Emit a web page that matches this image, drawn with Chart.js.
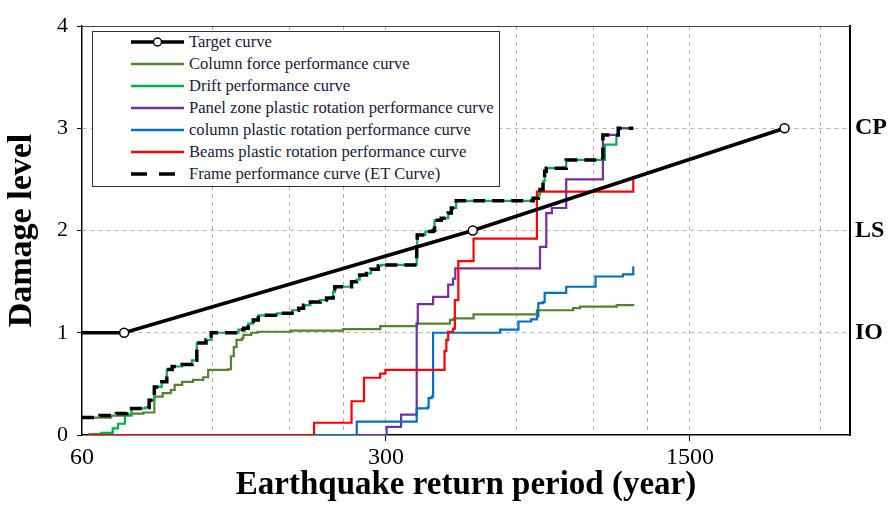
<!DOCTYPE html>
<html>
<head>
<meta charset="utf-8">
<script src="https://cdn.jsdelivr.net/npm/chart.js@4.4.1/dist/chart.umd.min.js"></script>
<style>
  html, body { margin: 0; padding: 0; background: #fff; }
  #wrap { position: relative; width: 889px; height: 505px; }
  #damageChart { position: absolute; left: 0; top: 0; }
  #legend {
    position: absolute; left: 92px; top: 31px; width: 408px; height: 156px;
    box-sizing: border-box; border: 1.5px solid #333; background: #fff;
    font-family: "Liberation Serif", "Times New Roman", serif; font-size: 16.6px; color: #1a1a3a;
  }
  .row { position: absolute; left: 0; height: 22px; display: flex; align-items: center; white-space: nowrap; }
  .row svg { margin-left: 38px; margin-right: 5px; }
</style>
</head>
<body>
<div id="wrap">
  <canvas id="damageChart" width="889" height="505"></canvas>
  <div id="legend"></div>
</div>
<script>
// 축 눈금
var xTickLabels = [60, 300, 1500];
var xGridValues = [60, 120, 180, 240, 300, 600, 900, 1200, 1500, 3000];
var levelValues = [1, 2, 3];
var levelNames = ['IO', 'LS', 'CP'];

var seriesNames = [
  'Target curve',
  'Column force performance curve',
  'Drift performance curve',
  'Panel zone plastic rotation performance curve',
  'column plastic rotation performance curve',
  'Beams plastic rotation performance curve',
  'Frame performance curve (ET Curve)'
];

// 목표 곡선
var targetX = [60, 75, 475, 2475];
var targetY = [1, 1, 2, 3];

// 기둥 축력
var colForceX = [60, 70, 78, 83, 88, 92, 96, 98, 102, 108, 114, 117, 130, 132, 134, 136, 140, 141, 147, 152,
  181, 239, 291, 353, 421, 429, 477, 667, 808, 838, 1018, 1111];
var colForceY = [0.17, 0.19, 0.21, 0.22, 0.375, 0.41, 0.44, 0.49, 0.52, 0.54, 0.565, 0.636, 0.643, 0.77, 0.86, 0.93, 0.946, 0.98, 1.0, 1.01,
  1.02, 1.035, 1.065, 1.09, 1.125, 1.14, 1.18, 1.22, 1.24, 1.255, 1.27, 1.28];

// 층간변위
var driftX = [62, 66.5, 70.6, 72.6, 75.3, 78, 84, 85.6, 88, 91.5, 94, 96.7, 102, 107.4, 110.2, 115.7, 118.9,
  137.4, 141.3, 144.7, 148.6, 152.6, 168.5, 182.4, 188.9, 193.9, 201, 211.8, 219, 226.8, 228.8, 250, 256.6, 261,
  270.5, 277, 288, 292, 353, 354, 369.6, 385, 388, 402, 417, 424, 435, 654, 672, 678, 689, 695, 701, 779,
  956, 1016, 1026, 1111];
var driftY = [0.01, 0.02, 0.065, 0.11, 0.20, 0.26, 0.27, 0.34, 0.47, 0.52, 0.64, 0.67, 0.69, 0.73, 0.90, 0.93, 1.0,
  1.03, 1.044, 1.09, 1.125, 1.17, 1.19, 1.22, 1.24, 1.27, 1.30, 1.32, 1.34, 1.40, 1.45, 1.50, 1.52, 1.565,
  1.58, 1.62, 1.654, 1.663, 1.84, 1.957, 1.99, 2.0, 2.10, 2.12, 2.17, 2.22, 2.29, 2.315, 2.35, 2.40, 2.48, 2.58, 2.61, 2.69,
  2.84, 2.935, 3.0, 3.0];

// 패널존 소성회전
var panelX = [62, 301, 325, 353, 355, 385, 417, 428, 433, 678, 701, 722, 779, 946, 1026, 1111];
var panelY = [0, 0.08, 0.20, 1.09, 1.28, 1.35, 1.47, 1.53, 1.63, 1.84, 2.17, 2.22, 2.50, 2.935, 3.0, 3.0];

// 기둥 소성회전
var colRotX = [62, 257, 353, 374, 376, 382, 385, 549, 605, 647, 667, 672, 689, 695, 779, 910, 1052, 1111];
var colRotY = [0, 0.13, 0.26, 0.27, 0.36, 0.375, 1.0, 1.03, 1.11, 1.13, 1.16, 1.29, 1.30, 1.39, 1.45, 1.55, 1.57, 1.65];

// 보 소성회전
var beamX = [62, 205, 250, 267, 291, 299, 409, 413, 417, 428, 432, 440, 477, 667, 1111];
var beamY = [0, 0.12, 0.33, 0.56, 0.60, 0.636, 0.82, 0.93, 1.01, 1.04, 1.32, 1.70, 1.92, 2.38, 2.53];

// 골조 (ET 곡선)
var frameX = [60, 66, 72, 76, 78, 84, 85.6, 88, 91.5, 94, 96.7, 102, 107.4, 110.2, 115.7, 118.9,
  137.4, 141.3, 144.7, 148.6, 152.6, 168.5, 182.4, 188.9, 193.9, 201, 211.8, 219, 226.8, 228.8, 250, 256.6, 261,
  270.5, 277, 288, 292, 353, 354, 369.6, 385, 388, 402, 417, 424, 435, 654, 672, 678, 689, 695, 701, 779,
  946, 1026, 1111];
var frameY = [0.17, 0.19, 0.21, 0.23, 0.26, 0.27, 0.34, 0.47, 0.52, 0.64, 0.67, 0.69, 0.73, 0.90, 0.93, 1.0,
  1.03, 1.044, 1.09, 1.125, 1.17, 1.19, 1.22, 1.24, 1.27, 1.30, 1.32, 1.34, 1.40, 1.45, 1.50, 1.52, 1.565,
  1.58, 1.62, 1.654, 1.663, 1.84, 1.957, 1.99, 2.0, 2.10, 2.12, 2.17, 2.22, 2.29, 2.315, 2.35, 2.40, 2.48, 2.58, 2.61, 2.69,
  2.935, 3.0, 3.0];

var serif = "'Liberation Serif', 'Times New Roman', serif";

function pts(xs, ys) {
  return xs.map(function (x, i) { return { x: x, y: ys[i] }; });
}

function stepSet(label, xs, ys, color, order) {
  return {
    label: label, data: pts(xs, ys), borderColor: color, backgroundColor: color,
    borderWidth: 2.2, pointRadius: 0, stepped: true, order: order
  };
}

// order 값이 작을수록 위에 그려짐
var datasets = [
  {
    label: seriesNames[0], data: pts(targetX, targetY), borderColor: '#000', borderWidth: 3.5,
    pointRadius: [0, 4.5, 4.5, 4.5], pointBorderWidth: 1.5, pointBackgroundColor: '#fff', pointBorderColor: '#000', order: 0
  },
  stepSet(seriesNames[1], colForceX, colForceY, '#548235', 6),
  stepSet(seriesNames[2], driftX, driftY, '#00b050', 5),
  stepSet(seriesNames[3], panelX, panelY, '#7030a0', 4),
  stepSet(seriesNames[4], colRotX, colRotY, '#0070c0', 3),
  stepSet(seriesNames[5], beamX, beamY, '#ff0000', 2),
  {
    label: seriesNames[6], data: pts(frameX, frameY), borderColor: '#000', borderWidth: 3.5,
    borderDash: [12, 7], pointRadius: 0, stepped: true, order: 1
  }
];

var topBorder = {
  id: 'topBorder',
  beforeDatasetsDraw: function (chart) {
    var ctx = chart.ctx, a = chart.chartArea;
    ctx.save();
    ctx.strokeStyle = '#444';
    ctx.lineWidth = 1;
    ctx.beginPath();
    ctx.moveTo(a.left, a.top + 0.5);
    ctx.lineTo(a.right, a.top + 0.5);
    ctx.stroke();
    ctx.restore();
  }
};

var ctx = document.getElementById('damageChart').getContext('2d');
var damageChart = new Chart(ctx, {
  type: 'line',
  data: { datasets: datasets },
  plugins: [topBorder],
  options: {
    responsive: false,
    animation: false,
    layout: { padding: { top: 26, left: 0, right: 0, bottom: 0 } },
    plugins: { legend: { display: false }, tooltip: { enabled: false } },
    scales: {
      x: {
        type: 'logarithmic', min: 60, max: 3500,
        afterBuildTicks: function (axis) {
          axis.ticks = xGridValues.map(function (v) { return { value: v }; });
        },
        afterFit: function (axis) { axis.height = 70; },
        ticks: {
          autoSkip: false, maxRotation: 0, padding: 2, color: '#000',
          font: { family: serif, size: 24 },
          callback: function (v) { return xTickLabels.indexOf(v) >= 0 ? String(v) : ''; }
        },
        grid: {
          color: function (c) { return c.tick && c.tick.value === 60 ? 'rgba(0,0,0,0)' : '#b4b4b4'; },
          lineWidth: 1, tickLength: 6,
          tickColor: function (c) { return c.tick && xTickLabels.indexOf(c.tick.value) > 0 ? '#000' : 'rgba(0,0,0,0)'; }
        },
        border: { color: '#000', width: 1.5, dash: [4, 4] },
        title: {
          display: true, text: 'Earthquake return period (year)', color: '#000',
          font: { family: serif, size: 33, weight: 'bold' }, padding: { top: 0, bottom: 0 }
        }
      },
      y: {
        type: 'linear', position: 'left', min: 0, max: 4,
        afterFit: function (axis) { axis.width = 82; },
        ticks: { stepSize: 1, padding: 9, color: '#000', font: { family: serif, size: 22 } },
        grid: {
          color: function (c) { return c.tick && c.tick.value === 0 ? 'rgba(0,0,0,0)' : '#b4b4b4'; },
          lineWidth: 1, tickLength: 5, tickColor: '#000'
        },
        border: { color: '#000', width: 1.5, dash: [4, 4] },
        title: {
          display: true, text: 'Damage level', color: '#000',
          font: { family: serif, size: 34, weight: 'bold' }, padding: { top: 2, bottom: 0 }
        }
      },
      yRight: {
        type: 'linear', position: 'right', min: 0, max: 4,
        afterBuildTicks: function (axis) {
          axis.ticks = levelValues.map(function (v) { return { value: v }; });
        },
        afterFit: function (axis) { axis.width = 39; },
        ticks: {
          padding: 5, color: '#000', font: { family: serif, size: 24, weight: 'bold' },
          callback: function (v) { var i = levelValues.indexOf(v); return i >= 0 ? levelNames[i] : ''; }
        },
        grid: { drawOnChartArea: false, drawTicks: false },
        border: { color: '#000', width: 2 }
      }
    }
  }
});

// 범례
var legendEl = document.getElementById('legend');
damageChart.data.datasets.forEach(function (ds, i) {
  var row = document.createElement('div');
  row.className = 'row';
  row.style.top = (22 * i - 1) + 'px';
  var line;
  if (i === 0) {
    line = '<line x1="0" y1="5" x2="53" y2="5" stroke="#000" stroke-width="3.5"/>' +
      '<circle cx="26.5" cy="5" r="4" fill="#fff" stroke="#000" stroke-width="1.5"/>';
  } else if (ds.borderDash) {
    line = '<line x1="0" y1="5" x2="46" y2="5" stroke="#000" stroke-width="3.5" stroke-dasharray="16 12"/>';
  } else {
    line = '<line x1="0" y1="5" x2="53" y2="5" stroke="' + ds.borderColor + '" stroke-width="2.5"/>';
  }
  row.innerHTML = '<svg width="53" height="10">' + line + '</svg><span>' + ds.label + '</span>';
  legendEl.appendChild(row);
});
</script>
</body>
</html>
